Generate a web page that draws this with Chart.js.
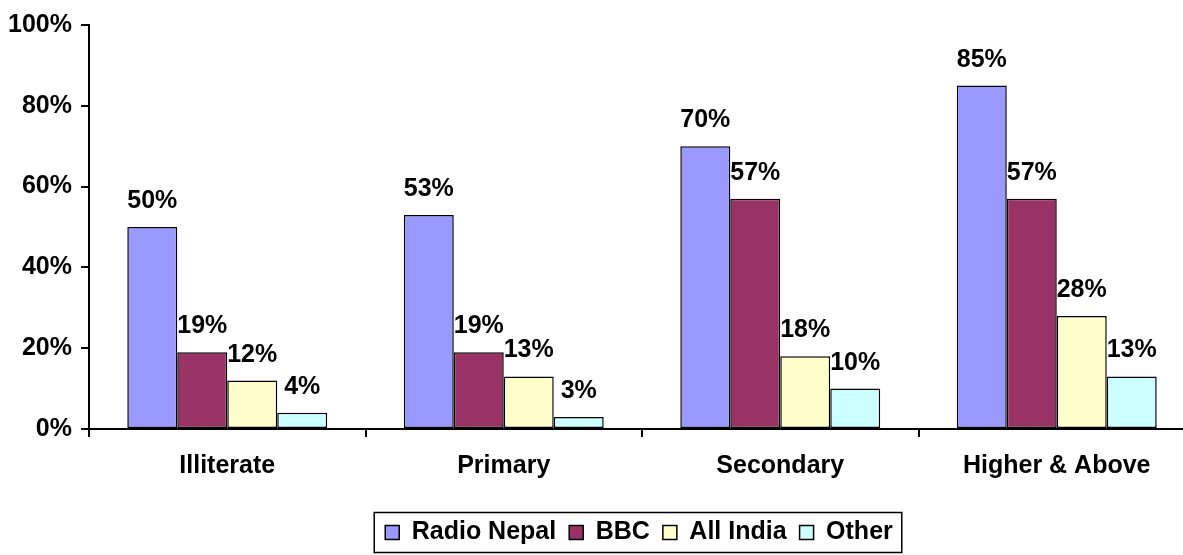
<!DOCTYPE html>
<html lang="en">
<head>
<meta charset="UTF-8">
<title>Radio listenership by education</title>
<script src="https://cdn.jsdelivr.net/npm/chart.js@4.4.1/dist/chart.umd.min.js"></script>
<style>
    html, body { margin: 0; padding: 0; background: #fff; overflow: hidden; }
    /* wider than the window: the last category runs past the right edge, like the original */
    #chartBox { position: relative; width: 1210px; height: 555px; }
</style>
</head>
<body>
<div id="chartBox"><canvas id="mediaChart"></canvas></div>
<script>
// data
const categories = ['Illiterate', 'Primary', 'Secondary', 'Higher & Above'];
const seriesNames = ['Radio Nepal', 'BBC', 'All India', 'Other'];
const radioNepal = [50, 53, 70, 85];
const bbc = [19, 19, 57, 57];
const allIndia = [12, 13, 18, 28];
const other = [4, 3, 10, 13];
const yTicks = [0, 20, 40, 60, 80, 100];

const seriesColors = ['#9999FF', '#993366', '#FFFFCC', '#CCFFFF'];
const FONT = '"Liberation Sans", Arial, sans-serif';

// value labels above every bar
const barValueLabels = {
    id: 'barValueLabels',
    afterDatasetsDraw(chart) {
        const ctx = chart.ctx;
        ctx.save();
        ctx.font = `bold 25px ${FONT}`;
        ctx.fillStyle = '#000';
        ctx.textAlign = 'center';
        ctx.textBaseline = 'alphabetic';
        chart.data.datasets.forEach((ds, i) => {
            chart.getDatasetMeta(i).data.forEach((bar, j) => {
                ctx.fillText(ds.data[j] + '%', bar.x, bar.y - 19);
            });
        });
        ctx.restore();
    }
};

// legend sits centred under the plot area (not the whole canvas), with a box round it
const legendFrame = {
    id: 'legendFrame',
    afterLayout(chart) {
        const legend = chart.legend;
        if (!legend) return;
        const mid = (chart.chartArea.left + chart.chartArea.right) / 2 - 3;
        const shift = mid - (legend.left + legend.right) / 2;
        legend.left += shift;
        legend.right += shift;
    },
    afterDraw(chart) {
        const boxes = chart.legend && chart.legend.legendHitBoxes;
        if (!boxes || !boxes.length) return;
        const ctx = chart.ctx;
        const left = Math.min(...boxes.map(b => b.left)) - 11;
        const right = Math.max(...boxes.map(b => b.left + b.width)) + 9;
        const mid = boxes[0].top + boxes[0].height / 2;
        ctx.save();
        ctx.strokeStyle = '#000';
        ctx.lineWidth = 1.5;
        ctx.strokeRect(left, mid - 20, right - left, 40);
        ctx.restore();
    }
};

function buildDatasets() {
    const values = [radioNepal, bbc, allIndia, other];
    return seriesNames.map((name, i) => ({
        label: name,
        data: values[i],
        backgroundColor: seriesColors[i],
        borderColor: '#000',
        borderWidth: 1.5,
        borderSkipped: false,
        categoryPercentage: 0.723,
        barPercentage: 1.0
    }));
}

document.addEventListener('DOMContentLoaded', () => {
    Chart.defaults.font.family = FONT;
    Chart.defaults.color = '#000';

    const ctx = document.getElementById('mediaChart').getContext('2d');
    new Chart(ctx, {
        type: 'bar',
        data: { labels: categories, datasets: buildDatasets() },
        plugins: [barValueLabels, legendFrame],
        options: {
            responsive: true,
            maintainAspectRatio: false,
            animation: false,
            layout: { padding: { top: 25, right: 15, bottom: 0, left: 0 } },
            scales: {
                x: {
                    offset: true,
                    grid: { display: true, offset: true, drawOnChartArea: false, tickLength: 8, color: '#000', lineWidth: 2 },
                    border: { display: true, color: '#000', width: 2 },
                    ticks: { font: { size: 25, weight: 'bold' }, padding: 14, maxRotation: 0 },
                    afterFit: scale => { scale.height = 78; }
                },
                y: {
                    min: 0,
                    max: 100,
                    afterBuildTicks: scale => { scale.ticks = yTicks.map(v => ({ value: v })); },
                    grid: { display: true, drawOnChartArea: false, tickLength: 8, color: '#000', lineWidth: 2 },
                    border: { display: true, color: '#000', width: 2 },
                    ticks: { font: { size: 25, weight: 'bold' }, padding: 9, callback: v => v + '%' },
                    afterFit: scale => { scale.width = 89; }
                }
            },
            plugins: {
                legend: {
                    position: 'bottom',
                    labels: {
                        boxWidth: 14,
                        boxHeight: 14,
                        padding: 13,
                        font: { size: 25, weight: 'bold' }
                    }
                },
                tooltip: { enabled: false }
            }
        }
    });
});
</script>
</body>
</html>
